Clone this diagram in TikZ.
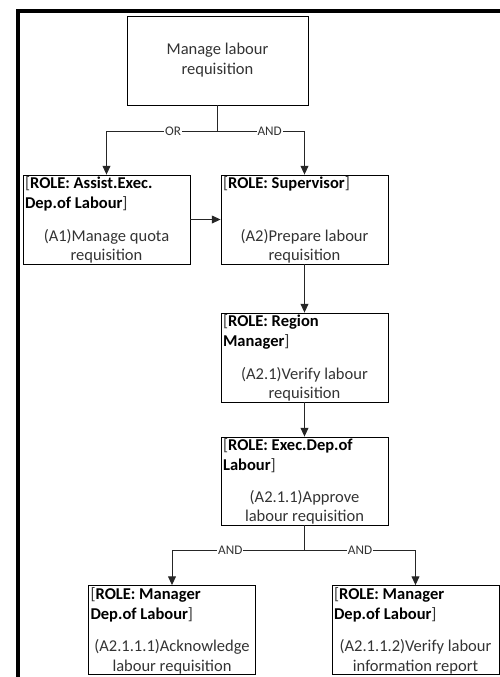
\documentclass[tikz,border=0pt]{standalone}
\usepackage{fontspec}
\setmainfont{Carlito}
\usetikzlibrary{arrows.meta,positioning,calc}
\definecolor{Ink}{HTML}{333333}
\definecolor{Edge}{HTML}{262626}

\begin{document}
\begin{tikzpicture}[x=0.02cm,y=-0.02cm,
  box/.style={draw=black,line width=0.5pt,minimum width=3.34cm,minimum height=1.78cm,inner sep=0pt},
  role/.style={anchor=north west,inner sep=1.2pt,align=left,font=\fontsize{9.4}{11.3}\selectfont},
  act/.style={anchor=south,inner sep=0pt,yshift=0.3pt,align=center,text=Ink,font=\fontsize{9.4}{11.3}\selectfont},
  link/.style={draw=Edge,line width=0.55pt,-{Triangle[length=5pt,width=4.5pt]}},
  gate/.style={fill=white,text=Ink,inner sep=0.6pt,font=\fontsize{7.5}{8}\selectfont}]
  \useasboundingbox (0,0) rectangle (500,677);
  % frame (cut off on the right and at the bottom)
  \draw[line width=0.08cm] (18,677) -- (18,11) -- (500,11);

  % goal
  \node[box,minimum width=3.62cm,align=center,text=Ink,font=\fontsize{9.4}{11.3}\selectfont]
    (top) at (217.5,60.5) {Manage labour\\requisition};

  % first level
  \node[box] (a1) at (106.5,219.5) {};
  \node[role] (a1r) at (a1.north west) {{\color{Ink}[}\textbf{ROLE: Assist.Exec.}\\\textbf{Dep.of Labour}{\color{Ink}]}};
  \node[act] (a1t) at (a1.south) {(A1)Manage quota\\requisition};

  \node[box] (a2) at (304.5,219.5) {};
  \node[role] (a2r) at (a2.north west) {{\color{Ink}[}\textbf{ROLE: Supervisor}{\color{Ink}]}};
  \node[act] (a2t) at (a2.south) {(A2)Prepare labour\\requisition};

  % chain below A2
  \node[box] (rm) at (304.5,357.5) {};
  \node[role] (rmr) at (rm.north west) {{\color{Ink}[}\textbf{ROLE: Region}\\\textbf{Manager}{\color{Ink}]}};
  \node[act] (rmt) at (rm.south) {(A2.1)Verify labour\\requisition};

  \node[box,minimum height=1.76cm] (ex) at (304.5,481) {};
  \node[role] (exr) at (ex.north west) {{\color{Ink}[}\textbf{ROLE: Exec.Dep.of}\\\textbf{Labour}{\color{Ink}]}};
  \node[act] (ext) at (ex.south) {(A2.1.1)Approve\\labour requisition};

  % leaves
  \node[box] (b1) at (172,630) {};
  \node[role] (b1r) at (b1.north west) {{\color{Ink}[}\textbf{ROLE: Manager}\\\textbf{Dep.of Labour}{\color{Ink}]}};
  \node[act] (b1t) at (b1.south) {(A2.1.1.1)Acknowledge\\labour requisition};

  \node[box] (b2) at (415.5,630) {};
  \node[role] (b2r) at (b2.north west) {{\color{Ink}[}\textbf{ROLE: Manager}\\\textbf{Dep.of Labour}{\color{Ink}]}};
  \node[act] (b2t) at (b2.south) {(A2.1.1.2)Verify labour\\information report};

  % connectors
  \coordinate (split1) at ($(top.south)+(0,26)$);
  \draw[link] (top.south) -- (split1) -| node[gate,pos=0.2]{OR} (a1.north);
  \draw[link] (split1) -| node[gate,pos=0.3]{AND} (a2.north);
  \draw[link] (a1) -- (a2);
  \draw[link] (a2) -- (rm);
  \draw[link] (rm) -- (ex);
  \coordinate (split2) at ($(ex.south)+(0,25)$);
  \draw[link] (ex.south) -- (split2) -| node[gate,pos=0.28]{AND} (b1.north);
  \draw[link] (split2) -| node[gate,pos=0.25]{AND} (b2.north);
\end{tikzpicture}
\end{document}
